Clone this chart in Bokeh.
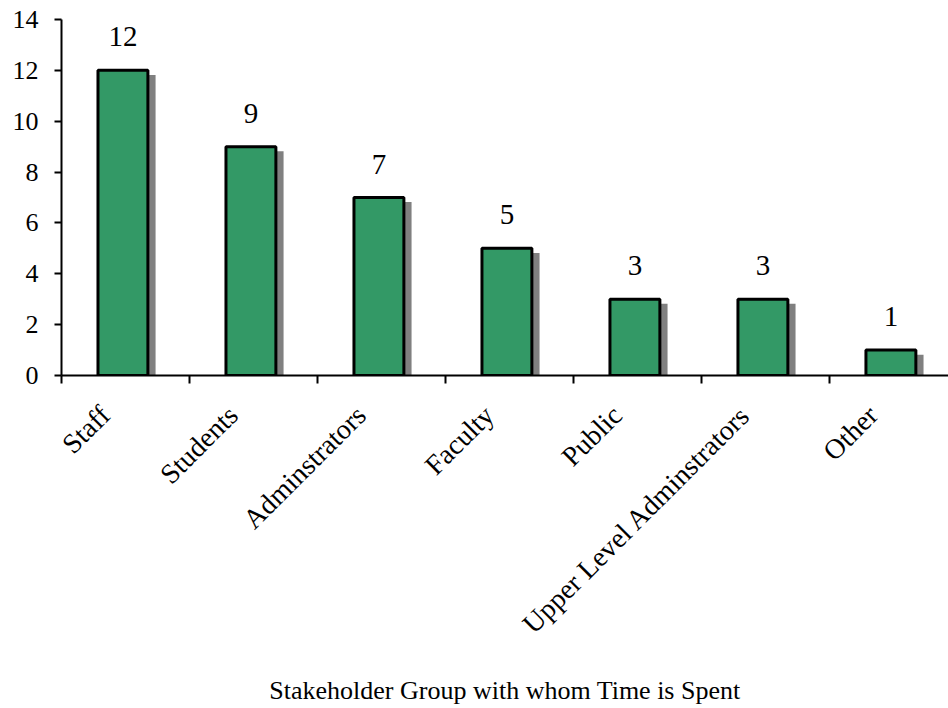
from math import pi

from bokeh.embed import file_html
from bokeh.models import ColumnDataSource, FixedTicker, Range1d
from bokeh.plotting import figure
from bokeh.resources import INLINE

# Stakeholder groups and the time spent with each
categories = ["Staff", "Students", "Adminstrators", "Faculty", "Public",
              "Upper Level Adminstrators", "Other"]
values = [12, 9, 7, 5, 3, 3, 1]
y_ticks = [0, 2, 4, 6, 8, 10, 12, 14]

FONT = "Liberation Serif"
GREEN = "#339966"
SHADOW = "#808080"

centers = [i + 0.48 for i in range(len(categories))]
# rotated category labels sit a little left of each bar centre
label_pos = [c - 0.14 for c in centers]

source = ColumnDataSource(dict(
    x=centers,
    top=values,
    label=[str(v) for v in values],
    sx=[c + 0.06 for c in centers],
    stop=[v - 0.18 for v in values],
))

p = figure(
    width=948, height=708,
    x_range=Range1d(0, 6.93), y_range=Range1d(0, 14),
    output_backend="svg", toolbar_location=None,
    min_border_left=61, min_border_right=0, min_border_top=19,
    min_border_bottom=0,
)
p.outline_line_color = None
p.xgrid.grid_line_color = None
p.ygrid.grid_line_color = None
p.background_fill_color = "white"
p.border_fill_color = "white"

# drop shadow behind each bar
p.vbar(x="sx", top="stop", bottom=0, width=0.39, source=source,
       fill_color=SHADOW, line_color=None)
# bars
p.vbar(x="x", top="top", bottom=0, width=0.39, source=source,
       fill_color=GREEN, line_color="black", line_width=3)
# value labels above bars
p.text(x="x", y="top", text="label", source=source,
       text_align="center", text_baseline="bottom", y_offset=-24,
       text_font="Liberation Serif", text_font_size="29px", text_color="black")

# y axis
yax = p.yaxis[0]
yax.ticker = FixedTicker(ticks=y_ticks, minor_ticks=[])
yax.axis_line_width = 2
yax.major_tick_line_width = 2
yax.major_tick_in = 0
yax.major_tick_out = 7
yax.major_label_standoff = 16
yax.major_label_text_font = FONT
yax.major_label_text_font_size = "26px"
yax.major_label_text_color = "black"

# x axis: labels near category centres, tick marks at category boundaries
xax = p.xaxis[0]
xax.ticker = FixedTicker(ticks=label_pos,
                         minor_ticks=list(range(len(categories) + 1)))
xax.major_label_overrides = {c: name for c, name in zip(label_pos, categories)}
xax.axis_line_width = 2
xax.major_tick_in = 0
xax.major_tick_out = 0
xax.minor_tick_in = 0
xax.minor_tick_out = 8
xax.minor_tick_line_width = 2
xax.minor_tick_line_color = "black"
xax.major_label_orientation = pi / 4
xax.major_label_standoff = 27
xax.major_label_text_font = FONT
xax.major_label_text_font_size = "28px"
xax.major_label_text_color = "black"
xax.axis_label = "Stakeholder Group with whom Time is Spent"
xax.axis_label_text_font = FONT
xax.axis_label_text_font_size = "26px"
xax.axis_label_text_font_style = "normal"
xax.axis_label_standoff = 23
xax.axis_label_text_color = "black"

open("out.html", "w").write(file_html(p, INLINE))
